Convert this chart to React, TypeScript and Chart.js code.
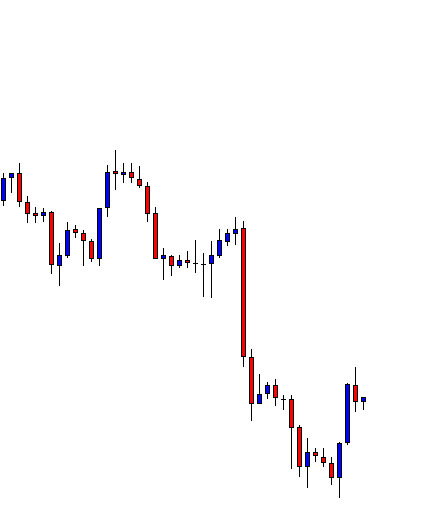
import React, { useEffect, useRef } from "react";
import { Chart, registerables } from "chart.js";

Chart.register(...registerables);

// OHLC candles (price in points)
const opens = [
  310, 333, 338, 309, 298, 295, 299, 245, 255, 282, 278, 270, 252, 303, 340, 336,
  339, 332, 325, 298, 252, 255, 245, 251, 248, 247, 247, 255, 269, 277, 283, 154,
  107, 117, 126, 112, 112, 84, 44, 59, 54, 48, 33, 68, 126, 109,
];
const highs = [
  338, 338, 348, 315, 304, 303, 300, 268, 289, 286, 281, 272, 303, 346, 361, 348,
  348, 345, 329, 304, 263, 256, 256, 260, 271, 258, 270, 282, 282, 294, 290, 162,
  137, 129, 132, 116, 116, 86, 73, 63, 63, 54, 69, 128, 144, 114,
];
const lows = [
  305, 318, 304, 288, 288, 289, 237, 225, 253, 273, 245, 249, 245, 294, 321, 328,
  328, 323, 289, 252, 231, 235, 243, 243, 238, 214, 213, 253, 265, 266, 144, 90,
  107, 112, 105, 101, 42, 34, 23, 49, 44, 26, 13, 66, 99, 101,
];
const closes = [
  333, 338, 309, 297, 295, 299, 246, 256, 281, 278, 270, 252, 303, 339, 337, 339,
  333, 325, 297, 252, 256, 245, 251, 248, 247, 246, 256, 271, 278, 282, 154, 107,
  117, 126, 113, 111, 83, 44, 59, 55, 48, 33, 68, 127, 109, 114,
];

const UP = "#0000ff";
const DOWN = "#ff0000";

export default function App() {
  const ref = useRef<HTMLCanvasElement | null>(null);

  useEffect(() => {
    document.body.style.margin = "0";
    const canvas = ref.current;
    if (!canvas) return;

    const bodies = opens.map((o, i) => ({ x: i, y: [o, closes[i]] }));
    const wicks = lows.map((l, i) => ({ x: i, y: [l, highs[i]] }));
    const colors = opens.map((o, i) => (closes[i] > o ? UP : DOWN));

    const chart = new Chart(canvas, {
      type: "bar",
      data: {
        datasets: [
          {
            label: "body",
            data: bodies as any,
            backgroundColor: colors,
            borderColor: "#000000",
            borderWidth: 1,
            borderSkipped: false,
            barThickness: 5,
            grouped: false,
            inflateAmount: 0,
            order: 0,
          },
          {
            label: "wick",
            data: wicks as any,
            backgroundColor: "#000000",
            borderWidth: 0,
            barThickness: 1,
            grouped: false,
            inflateAmount: 0,
            order: 1,
          },
        ],
      },
      options: {
        animation: false,
        responsive: false,
        devicePixelRatio: 1,
        layout: { padding: 0 },
        plugins: { legend: { display: false }, tooltip: { enabled: false } },
        scales: {
          x: {
            type: "linear",
            display: false,
            offset: false,
            grid: { offset: false },
            min: -0.4375,
            max: -0.4375 + 442 / 8,
          },
          y: {
            type: "linear",
            display: false,
            min: 0,
            max: 511,
          },
        },
      },
    });

    return () => chart.destroy();
  }, []);

  return (
    <div style={{ width: 442, height: 511, background: "#ffffff" }}>
      <canvas ref={ref} width={442} height={511} />
    </div>
  );
}
